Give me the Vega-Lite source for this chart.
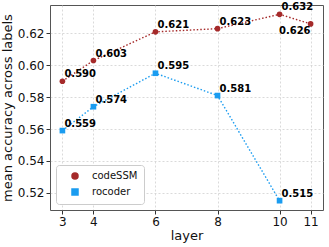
{
  "$schema": "https://vega.github.io/schema/vega-lite/v6.json",
  "width": 273,
  "height": 205,
  "autosize": {"type": "none"},
  "padding": {"left": 50, "top": 5, "right": 6, "bottom": 37},
  "background": "white",
  "config": {
    "font": "DejaVu Sans",
    "view": {"stroke": "#555", "strokeWidth": 1},
    "axis": {
      "grid": true,
      "gridColor": "#d0d0d0",
      "gridDash": [2, 2],
      "gridWidth": 0.8,
      "domain": false,
      "tickColor": "#333",
      "tickSize": 4,
      "labelFont": "DejaVu Sans",
      "labelFontSize": 12,
      "labelColor": "#111",
      "titleFont": "DejaVu Sans",
      "titleFontSize": 13,
      "titleFontWeight": "normal",
      "titleColor": "#111"
    },
    "legend": {
      "title": null,
      "orient": "bottom-left",
      "offset": 6,
      "padding": 6,
      "strokeColor": "#ccc",
      "fillColor": "white",
      "cornerRadius": 3,
      "labelFontSize": 10,
      "labelFont": "DejaVu Sans",
      "labelColor": "#111",
      "symbolSize": 36,
      "symbolOffset": 8,
      "labelOffset": 12,
      "rowPadding": 4
    }
  },
  "data": {
    "values": [
      {"layer": 3, "model": "codeSSM", "acc": 0.590},
      {"layer": 4, "model": "codeSSM", "acc": 0.603},
      {"layer": 6, "model": "codeSSM", "acc": 0.621},
      {"layer": 8, "model": "codeSSM", "acc": 0.623},
      {"layer": 10, "model": "codeSSM", "acc": 0.632},
      {"layer": 11, "model": "codeSSM", "acc": 0.626},
      {"layer": 3, "model": "rocoder", "acc": 0.559},
      {"layer": 4, "model": "rocoder", "acc": 0.574},
      {"layer": 6, "model": "rocoder", "acc": 0.595},
      {"layer": 8, "model": "rocoder", "acc": 0.581},
      {"layer": 10, "model": "rocoder", "acc": 0.515}
    ]
  },
  "encoding": {
    "x": {
      "field": "layer",
      "type": "quantitative",
      "title": "layer",
      "scale": {"domain": [2.6, 11.4], "nice": false, "zero": false},
      "axis": {"values": [3, 4, 6, 8, 10, 11], "format": "d", "titlePadding": 2}
    },
    "y": {
      "field": "acc",
      "type": "quantitative",
      "title": "mean accuracy across labels",
      "scale": {"domain": [0.50915, 0.63785], "nice": false, "zero": false},
      "axis": {"values": [0.52, 0.54, 0.56, 0.58, 0.6, 0.62], "format": ".2f", "titlePadding": 3}
    }
  },
  "layer": [
    {
      "mark": {"type": "line", "strokeDash": [1.5, 2], "strokeWidth": 1.4},
      "encoding": {
        "color": {"field": "model", "type": "nominal", "scale": {"domain": ["codeSSM", "rocoder"], "range": ["#a52a2a", "#1a9cf0"]}}
      }
    },
    {
      "mark": {"type": "point", "filled": true, "opacity": 1, "size": 32},
      "encoding": {
        "color": {"field": "model", "type": "nominal", "scale": {"domain": ["codeSSM", "rocoder"], "range": ["#a52a2a", "#1a9cf0"]}},
        "shape": {
          "field": "model",
          "type": "nominal",
          "scale": {"domain": ["codeSSM", "rocoder"], "range": ["circle", "square"]}
        }
      }
    },
    {
      "transform": [{"filter": "datum.acc != 0.626"}],
      "mark": {"type": "text", "align": "left", "baseline": "bottom", "dx": 2, "dy": -2, "fontWeight": "bold", "fontSize": 10, "color": "black"},
      "encoding": {"text": {"field": "acc", "type": "quantitative", "format": ".3f"}}
    },
    {
      "transform": [{"filter": "datum.acc == 0.626"}],
      "mark": {"type": "text", "align": "right", "baseline": "top", "dx": 0, "dy": 2, "fontWeight": "bold", "fontSize": 10, "color": "black"},
      "encoding": {"text": {"field": "acc", "type": "quantitative", "format": ".3f"}}
    }
  ]
}
